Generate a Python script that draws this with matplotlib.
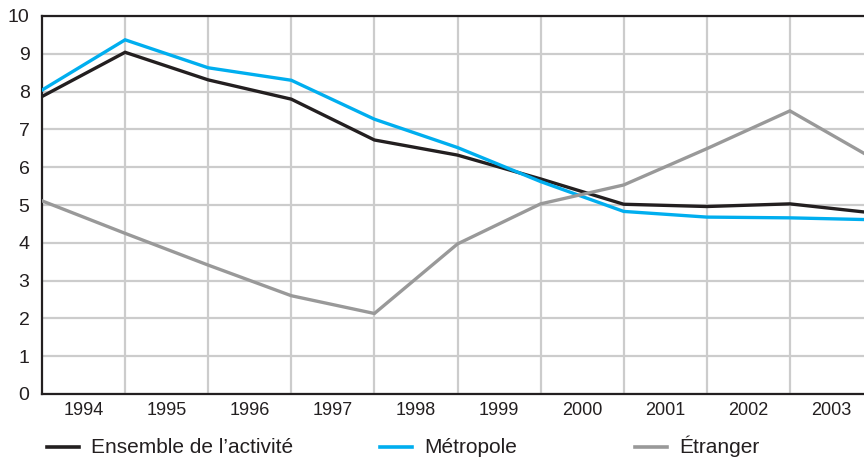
import numpy as np
import matplotlib.pyplot as plt
from matplotlib.lines import Line2D

plt.rcParams['font.family'] = ['Liberation Sans', 'DejaVu Sans']

# year boundaries (start of 1994 ... start of 2004)
years = ['1994', '1995', '1996', '1997', '1998', '1999', '2000', '2001', '2002', '2003']
ensemble = [7.87, 9.04, 8.31, 7.80, 6.72, 6.32, 5.69, 5.02, 4.96, 5.03, 4.79]
metropole = [8.04, 9.37, 8.63, 8.30, 7.27, 6.52, 5.62, 4.83, 4.68, 4.66, 4.61]
etranger = [5.11, 4.25, 3.41, 2.60, 2.13, 3.97, 5.03, 5.53, 6.49, 7.49, 6.23]
labels = ['Ensemble de l\u2019activité', 'Métropole', 'Étranger']
colors = ['#231f20', '#00aeef', '#999999']

x = np.arange(len(ensemble))

fig = plt.figure(figsize=(8.64, 4.62), dpi=100)
ax = fig.add_axes([42/864, 68/462, 1 - 42/864, 378/462])

for vals, c in zip([ensemble, metropole, etranger], colors):
    ax.plot(x, vals, color=c, lw=2.4, solid_joinstyle='miter', zorder=3)

ax.set_xlim(0, 822/83.1)
ax.set_ylim(0, 10)
ax.set_yticks(range(0, 11))
ax.set_xticks(np.arange(1, 10))
ax.set_xticklabels([])
ax.set_xticks(np.arange(len(years)) + 0.5, minor=True)
ax.set_xticklabels(years, minor=True)
ax.tick_params(axis='both', which='both', length=0, colors='#231f20')
ax.tick_params(axis='y', pad=9, labelsize=14)
ax.tick_params(axis='x', which='minor', pad=6, labelsize=13)
ax.grid(True, which='major', color='#cccccc', lw=1.6, zorder=0)
ax.set_axisbelow(True)

for s in ['left', 'bottom', 'top']:
    ax.spines[s].set_color('#231f20')
    ax.spines[s].set_linewidth(1.6)
ax.spines['right'].set_visible(False)

# legend drawn by hand so the three entries sit on one baseline
leg_x = [47, 380, 635]
line_y = 15 / 462
base_y = 9 / 462
for lab, c, lx in zip(labels, colors, leg_x):
    fig.add_artist(Line2D([lx/864, (lx + 32)/864], [line_y, line_y], color=c, lw=2.6))
    fig.text((lx + 44)/864, base_y, lab, fontsize=15, color='#231f20',
             ha='left', va='baseline')

fig.savefig('out.png', dpi=100)
